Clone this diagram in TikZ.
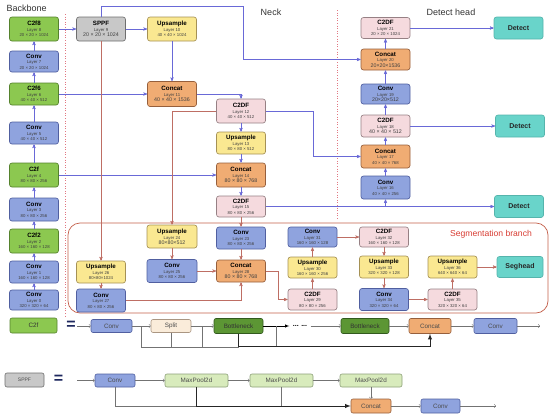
\documentclass[tikz,border=0pt]{standalone}
\usepackage{fontspec}
\setmainfont{Liberation Sans}
\usepackage{tikz}
\usetikzlibrary{calc}
\usetikzlibrary{arrows}
\usetikzlibrary{positioning}
\definecolor{convblue}{RGB}{143, 163, 222}
\definecolor{convedge}{RGB}{ 80,  95, 160}
\definecolor{c2fgreen}{RGB}{140, 200,  80}
\definecolor{c2fedge}{RGB}{ 85, 130,  45}
\definecolor{sppfgray}{RGB}{200, 200, 200}
\definecolor{sppfedge}{RGB}{110, 110, 110}
\definecolor{upyellow}{RGB}{250, 232, 145}
\definecolor{upedge}{RGB}{165, 145,  85}
\definecolor{catorange}{RGB}{240, 172, 115}
\definecolor{catedge}{RGB}{150,  95,  60}
\definecolor{c2dfpink}{RGB}{245, 218, 222}
\definecolor{c2dfedge}{RGB}{150, 128, 132}
\definecolor{detteal}{RGB}{105, 212, 202}
\definecolor{detedge}{RGB}{ 85, 180, 172}
\definecolor{linkblue}{RGB}{105, 105, 215}
\definecolor{segline}{RGB}{190, 110, 100}
\definecolor{segframe}{RGB}{195,  95,  75}
\definecolor{segtext}{RGB}{215,  60,  50}
\definecolor{guidepink}{RGB}{225, 120, 130}
\definecolor{splitbeige}{RGB}{250, 236, 218}
\definecolor{splitedge}{RGB}{170, 150, 130}
\definecolor{bndark}{RGB}{ 92, 150,  52}
\definecolor{bnedge}{RGB}{ 50,  90,  30}
\definecolor{poolgreen}{RGB}{216, 235, 188}
\definecolor{pooledge}{RGB}{140, 160, 120}
\definecolor{eqnavy}{RGB}{ 30,  40,  95}
\newcommand{\lyr}[3]{{\fontsize{6.2}{7}\selectfont\bfseries\color{black}#1}\\[0.6pt]#2\\#3}
\newcommand{\lyrb}[3]{{\fontsize{6.2}{7}\selectfont\bfseries\color{black}#1}\\[0.6pt]#2\\{\fontsize{5.3}{5.3}\selectfont #3}}
\tikzset{
  blk/.style={draw, rounded corners=2.5pt, line width=0.65pt, minimum width=49pt,
    minimum height=22pt, inner sep=0pt, align=center, text=black!75,
    font=\fontsize{4.3}{5.2}\selectfont},
  convblk/.style={blk, fill=convblue, draw=convedge},
  c2fblk/.style={blk, fill=c2fgreen, draw=c2fedge},
  sppfblk/.style={blk, fill=sppfgray, draw=sppfedge},
  upblk/.style={blk, fill=upyellow, draw=upedge},
  catblk/.style={blk, fill=catorange, draw=catedge},
  c2dfblk/.style={blk, fill=c2dfpink, draw=c2dfedge},
  detblk/.style={blk, fill=detteal, draw=detedge, text=black!85,
    font=\fontsize{7}{8}\selectfont\bfseries},
  link/.style={draw=linkblue, line width=0.45pt, -stealth'},
  seglink/.style={draw=segline, line width=0.45pt, -stealth'},
  guide/.style={draw=guidepink, line width=0.6pt, dotted},
  title/.style={font=\fontsize{9}{10}\selectfont, text=black!80},
  keyblk/.style={draw, rounded corners=2pt, line width=0.6pt, inner sep=0pt,
    minimum height=13pt, text=black!70, font=\fontsize{6.3}{7}\selectfont},
  keyline/.style={draw=black!55, line width=0.45pt},
  keyarrow/.style={keyline, -to},
  keybus/.style={draw=black!85, line width=0.9pt},
  equal/.style={font=\fontsize{16}{16}\selectfont\bfseries, text=eqnavy}
}
\begin{document}
\begin{tikzpicture}[x=1pt, y=-1pt]
  \useasboundingbox (0,0) rectangle (550,418);
  % guides and frame
  \draw[guide] ( 65.0,  14.0) -- ( 65.0, 318.0);
  \draw[guide] (337.0,  10.0) -- (337.0, 219.0);
  \draw[draw=segframe, line width=0.7pt, rounded corners=12pt] ( 68.0, 223.0) rectangle (548.0, 313.0);
  \node[title, anchor=west] (backbonetitle) at (  3.0,   8.0) {Backbone};
  \node[title] (necktitle) at (271.0,  12.0) {Neck};
  \node[title] (headtitle) at (451.0,  12.0) {Detect head};
  \node[font=\fontsize{8.6}{10}\selectfont, text=segtext] (segtitle) at (491.0, 234.0) {Segmentation branch};

  % backbone
  \node[c2fblk,  minimum height=24pt] (c2f8)  at ( 34.0,  29.0) {\lyr{C2f8}{Layer 8}{20 × 20 × 1024}};
  \node[convblk, minimum height=21pt] (conv7) at ( 34.0,  61.5) {\lyr{Conv}{Layer 7}{20 × 20 × 1024}};
  \node[c2fblk]                       (c2f6)  at ( 34.0,  94.0) {\lyr{C2f6}{Layer 6}{40 × 40 × 512}};
  \node[convblk]                      (conv5) at ( 34.0, 133.0) {\lyr{Conv}{Layer 5}{40 × 40 × 512}};
  \node[c2fblk,  minimum height=24pt] (c2f4)  at ( 34.0, 175.0) {\lyr{C2f}{Layer 4}{80 × 80 × 256}};
  \node[convblk, minimum height=23pt] (conv3) at ( 34.0, 209.5) {\lyr{Conv}{Layer 3}{80 × 80 × 256}};
  \node[c2fblk,  minimum height=24pt] (c2f2)  at ( 34.0, 241.0) {\lyr{C2f2}{Layer 2}{160 × 160 × 128}};
  \node[convblk]                      (conv1) at ( 34.0, 272.0) {\lyr{Conv}{Layer 1}{160 × 160 × 128}};
  \node[convblk, minimum height=20pt] (conv0) at ( 34.0, 300.0) {\lyr{Conv}{Layer 0}{320 × 320 × 64}};

  % neck
  \node[sppfblk, minimum height=24pt] (sppf)   at (101.0,  29.0) {\lyrb{SPPF}{Layer 9}{20 × 20 × 1024}};
  \node[upblk,   minimum height=24pt] (up10)   at (172.0,  29.0) {\lyr{Upsample}{Layer 10}{40 × 40 × 1024}};
  \node[catblk,  minimum height=25pt] (cat11)  at (172.0,  94.0) {\lyrb{Concat}{Layer 11}{40 × 40 × 1536}};
  \node[c2dfblk, minimum height=24pt] (c2df12) at (241.0, 111.0) {\lyr{C2DF}{Layer 12}{40 × 40 × 512}};
  \node[upblk]                        (up13)   at (241.0, 143.0) {\lyr{Upsample}{Layer 13}{80 × 80 × 512}};
  \node[catblk,  minimum height=24pt] (cat14)  at (241.0, 175.0) {\lyrb{Concat}{Layer 14}{80 × 80 × 768}};
  \node[c2dfblk, minimum height=21pt] (c2df15) at (241.0, 206.5) {\lyr{C2DF}{Layer 15}{80 × 80 × 256}};

  % detect head
  \node[c2dfblk, minimum height=21pt] (c2df21) at (385.5,  28.0) {\lyr{C2DF}{Layer 21}{20 × 20 × 1024}};
  \node[catblk,  minimum height=21pt] (cat20)  at (385.5,  59.5) {\lyrb{Concat}{Layer 20}{20×20×1536}};
  \node[convblk, minimum height=20pt] (conv19) at (385.5,  94.0) {\lyrb{Conv}{Layer 19}{20×20×512}};
  \node[c2dfblk]                      (c2df18) at (385.5, 126.0) {\lyrb{C2DF}{Layer 18}{40 × 40 × 512}};
  \node[catblk,  minimum height=23pt] (cat17)  at (385.5, 156.5) {\lyr{Concat}{Layer 17}{40 × 40 × 768}};
  \node[convblk, minimum height=23pt] (conv16) at (385.5, 187.5) {\lyr{Conv}{Layer 16}{40 × 40 × 256}};
  \node[detblk] (det1) at (518.5,  28.0) {Detect};
  \node[detblk] (det2) at (520.0, 126.0) {Detect};
  \node[detblk] (det3) at (519.0, 206.5) {Detect};

  % segmentation branch
  \node[upblk]                        (up26)   at (101.0, 272.0) {\lyr{Upsample}{Layer 26}{80×80×1024}};
  \node[convblk, minimum height=23pt] (conv27) at (101.0, 300.5) {\lyr{Conv}{Layer 27}{80 × 80 × 256}};
  \node[upblk,   minimum height=23pt, minimum width=50pt] (up24)   at (172.0, 236.5) {\lyrb{Upsample}{Layer 24}{80×80×512}};
  \node[convblk, minimum height=23pt, minimum width=50pt] (conv25) at (172.0, 271.0) {\lyr{Conv}{Layer 25}{80 × 80 × 256}};
  \node[convblk]                      (conv23) at (241.0, 238.0) {\lyr{Conv}{Layer 23}{80 × 80 × 256}};
  \node[catblk]                       (cat28)  at (241.0, 271.0) {\lyrb{Concat}{Layer 28}{80 × 80 × 768}};
  \node[convblk, minimum height=20pt] (conv31) at (312.5, 237.0) {\lyr{Conv}{Layer 31}{160 × 160 × 128}};
  \node[upblk,   minimum height=21pt] (up30)   at (312.5, 267.5) {\lyr{Upsample}{Layer 30}{160 × 160 × 256}};
  \node[c2dfblk, minimum height=21pt] (c2df29) at (312.5, 299.5) {\lyr{C2DF}{Layer 29}{80 × 80 × 256}};
  \node[c2dfblk, minimum height=20pt] (c2df32) at (384.0, 237.0) {\lyr{C2DF}{Layer 32}{160 × 160 × 128}};
  \node[upblk]                        (up33)   at (384.0, 267.0) {\lyr{Upsample}{Layer 33}{320 × 320 × 128}};
  \node[convblk]                      (conv34) at (384.0, 299.5) {\lyr{Conv}{Layer 34}{320 × 320 × 64}};
  \node[c2dfblk, minimum height=21pt] (c2df35) at (452.5, 299.5) {\lyr{C2DF}{Layer 35}{320 × 320 × 64}};
  \node[upblk]                        (up36)   at (452.5, 267.0) {\lyr{Upsample}{Layer 36}{640 × 640 × 64}};
  \node[detblk, minimum width=46pt, minimum height=21pt] (seghead) at (520.0, 267.0) {Seghead};

  % backbone and head chains
  \foreach \a/\b in {conv0/conv1, conv1/c2f2, c2f2/conv3, conv3/c2f4, c2f4/conv5,
                     conv5/c2f6, c2f6/conv7, conv7/c2f8, c2f8/sppf, sppf/up10, up10/cat11,
                     c2df12/up13, up13/cat14, cat14/c2df15,
                     conv16/cat17, cat17/c2df18, c2df18/conv19, conv19/cat20, cat20/c2df21,
                     c2df21/det1, c2df18/det2, c2df15/det3, c2f6/cat11, c2f4/cat14}
    \draw[link] (\a) -- (\b);
  \coordinate (topbend) at (243.0,   6.0);
  \draw[link] (sppf.north) |- (topbend) |- (cat20.west);
  \draw[link] (cat11.east) -| (c2df12.north);
  \draw[link] (c2df12.east) -- ++(47,0) |- (cat17.west);
  \draw[link] (c2df15.east -| conv16.south) -- (conv16.south);

  % segmentation links
  \draw[seglink] (sppf.south) -- (up26.north);
  \draw[seglink] (c2df12.west) -| (up24.north);
  \foreach \a/\b in {c2df15/conv23, up24/conv25, conv25/cat28, conv23/cat28, up26/conv27,
                     c2df29/up30, up30/conv31, conv31/c2df32, c2df32/up33, up33/conv34,
                     conv34/c2df35, c2df35/up36, up36/seghead}
    \draw[seglink] (\a) -- (\b);
  \draw[seglink] (conv27.east) -| (cat28.south);
  \draw[seglink] (cat28.east) -- ++(12,0) |- (c2df29.west);

  % C2f module
  \node[keyblk, fill=c2fgreen, draw=c2fedge, minimum width=47pt, minimum height=15pt, text=black!80] (c2fkey) at ( 33.5, 325.5) {C2f};
  \node[equal] (c2feq) at ( 71.0, 325.0) {=};
  \coordinate (c2fin) at ( 77.0, 326.0);
  \node[keyblk, fill=convblue, draw=convedge, minimum width=41pt] (kconv) at (111.5, 326.0) {Conv};
  \node[keyblk, fill=splitbeige, draw=splitedge, minimum width=40pt] (ksplit) at (171.0, 326.0) {Split};
  \node[keyblk, fill=bndark, draw=bnedge, minimum width=49pt, minimum height=15pt, text=black!80] (kbn1) at (238.5, 326.0) {Bottleneck};
  \node[font=\fontsize{7}{8}\selectfont\bfseries] (kdots) at (300.0, 326.0) {... ...};
  \node[keyblk, fill=bndark, draw=bnedge, minimum width=48pt, minimum height=15pt, text=black!80] (kbn2) at (365.0, 326.0) {Bottleneck};
  \node[keyblk, fill=catorange, draw=catedge, minimum width=42pt, minimum height=15pt] (kcat) at (430.0, 326.0) {Concat};
  \node[keyblk, fill=convblue, draw=convedge, minimum width=43pt, minimum height=15pt] (kconv2) at (495.5, 326.0) {Conv};
  \coordinate (c2fout) at (540.0, 326.0);
  \foreach \a/\b in {c2fin/kconv, kconv/ksplit, ksplit/kbn1, kdots/kbn2, kbn2/kcat, kcat/kconv2, kconv2/c2fout}
    \draw[keyarrow] (\a) -- (\b);
  \draw[keyline, -latex, draw=black] (kbn1) -- (kdots);
  \coordinate (c2fbus) at ($(kcat.south)+(0,13)$);
  \coordinate (c2fsplit) at ($(kconv.east)!0.5!(ksplit.west)$);
  \coordinate (c2fmid) at ($(ksplit.east)!0.5!(kbn1.west)$);
  \coordinate (c2fafter) at ($(kbn1.east)!0.5!(kdots.west)$);
  \draw[keyline] (c2fsplit) |- (kbn1.south |- c2fbus);
  \draw[keyline] (ksplit.south) -- (ksplit.south |- c2fbus);
  \draw[keyline] (c2fmid) -- (c2fmid |- c2fbus);
  \draw[keyline] (c2fafter) -- (c2fafter |- c2fbus);
  \draw[keybus, -latex] (kbn1.south) -- (kbn1.south |- c2fbus) -- (c2fbus) -- (kcat.south);

  % SPPF module
  \node[keyblk, fill=sppfgray, draw=sppfedge, minimum width=39pt, minimum height=14pt, font=\fontsize{5}{6}\selectfont] (sppfkey) at ( 24.5, 380.0) {SPPF};
  \node[equal] (sppfeq) at ( 58.5, 379.5) {=};
  \coordinate (sppfin) at ( 77.0, 380.5);
  \node[keyblk, fill=convblue, draw=convedge, minimum width=40pt] (pconv) at (115.0, 380.5) {Conv};
  \node[keyblk, fill=poolgreen, draw=pooledge, minimum width=63pt] (pool1) at (196.5, 380.5) {MaxPool2d};
  \node[keyblk, fill=poolgreen, draw=pooledge, minimum width=63pt] (pool2) at (281.5, 380.5) {MaxPool2d};
  \node[keyblk, fill=poolgreen, draw=pooledge, minimum width=62pt] (pool3) at (371.0, 380.5) {MaxPool2d};
  \node[keyblk, fill=catorange, draw=catedge, minimum width=40pt, minimum height=14pt] (pcat) at (371.0, 406.0) {Concat};
  \node[keyblk, fill=convblue, draw=convedge, minimum width=39pt, minimum height=14pt] (pconv2) at (440.5, 406.0) {Conv};
  \coordinate (sppfout) at (496.0, 406.0);
  \foreach \a/\b in {sppfin/pconv, pconv/pool1, pool1/pool2, pool2/pool3, pool3/pcat, pcat/pconv2, pconv2/sppfout}
    \draw[keyarrow] (\a) -- (\b);
  \draw[keyline] (pconv.south) |- (pool1.south |- pcat.west);
  \draw[keyline] (pool2.south) -- (pool2.south |- pcat.west);
  \draw[keybus, -latex] (pool1.south) |- (pcat.west);
\end{tikzpicture}
\end{document}
